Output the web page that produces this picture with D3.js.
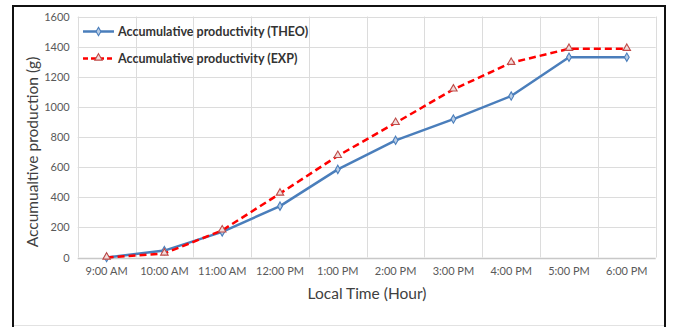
<!DOCTYPE html>
<html>
<head>
<meta charset="utf-8">
<script src="https://cdn.jsdelivr.net/npm/d3@7/dist/d3.min.js"></script>
<style>
  html, body { margin: 0; padding: 0; background: #fff; }
  svg { display: block; }
</style>
</head>
<body>
<svg id="chart" width="673" height="327"></svg>
<script>
// Hourly time slots on the x axis
const hours = ["9:00 AM", "10:00 AM", "11:00 AM", "12:00 PM", "1:00 PM",
               "2:00 PM", "3:00 PM", "4:00 PM", "5:00 PM", "6:00 PM"];
// Accumulated production in grams
const theoValues = [0, 46, 170, 341, 585, 778, 919, 1072, 1330, 1330];
const expValues  = [0, 27, 180, 425, 675, 894, 1116, 1293, 1386, 1386];
const yTicks = [0, 200, 400, 600, 800, 1000, 1200, 1400, 1600];
const seriesNames = ["Accumulative productivity (THEO)", "Accumulative productivity (EXP)"];

const svg = d3.select("#chart");
const font = "Lato, 'Open Sans', sans-serif";

// Outer frame
svg.append("rect")
  .attr("x", 13).attr("y", 6).attr("width", 652).attr("height", 330)
  .attr("fill", "none").attr("stroke", "#111").attr("stroke-width", 2);
svg.append("line")
  .attr("x1", 14).attr("x2", 664).attr("y1", 325.5).attr("y2", 325.5)
  .attr("stroke", "#e2e2e2").attr("stroke-width", 1);

const plot = { left: 77.7, right: 655.7, top: 16.5, bottom: 257.5 };

const x = d3.scaleBand().domain(hours).range([plot.left, plot.right]);
const y = d3.scaleLinear().domain([0, 1600]).range([plot.bottom, plot.top]);

// Horizontal gridlines
svg.append("g").selectAll("line").data(yTicks).join("line")
  .attr("x1", plot.left).attr("x2", plot.right)
  .attr("y1", d => Math.round(y(d)) + 0.5).attr("y2", d => Math.round(y(d)) + 0.5)
  .attr("stroke", d => d === 0 ? "#c8c8c8" : "#dcdcdc").attr("stroke-width", d => d === 0 ? 1.3 : 1);

// Vertical gridlines at category boundaries
const bounds = hours.map(h => x(h)).concat([plot.right]);
svg.append("g").selectAll("line").data(bounds).join("line")
  .attr("x1", d => Math.round(d) + 0.5).attr("x2", d => Math.round(d) + 0.5)
  .attr("y1", plot.top).attr("y2", plot.bottom)
  .attr("stroke", "#dcdcdc").attr("stroke-width", 1);

// Y axis labels
const yAxis = d3.axisLeft(y).tickValues(yTicks).tickFormat(d3.format("d")).tickSize(0).tickPadding(8);
const gy = svg.append("g").attr("transform", `translate(${plot.left},0)`).call(yAxis);
gy.select(".domain").remove();
gy.selectAll("text").attr("font-family", font).attr("font-size", 11).attr("fill", "#595959");

// X axis labels
const xAxis = d3.axisBottom(x).tickSize(0).tickPadding(10);
const gx = svg.append("g").attr("transform", `translate(0,${plot.bottom})`).call(xAxis);
gx.select(".domain").remove();
gx.selectAll("text").attr("font-family", font).attr("font-size", 11).attr("fill", "#595959");

// Axis titles
svg.append("text")
  .attr("x", 367).attr("y", 299).attr("text-anchor", "middle")
  .attr("font-family", font).attr("font-size", 15.5).attr("fill", "#404040")
  .text("Local Time (Hour)");
svg.append("text")
  .attr("transform", "translate(38,152) rotate(-90)").attr("text-anchor", "middle")
  .attr("font-family", font).attr("font-size", 15.5).attr("fill", "#404040")
  .text("Accumualtive production (g)");

const cx = d => x(d) + x.bandwidth() / 2;
const line = d3.line().x((d, i) => cx(hours[i])).y(d => y(d));

const theoColor = "#4a7ebb";
const expColor = "#ff0000";
const diamond = d3.symbol().type(d3.symbolDiamond).size(20);
const triangle = d3.symbol().type(d3.symbolTriangle).size(24);

// THEO series
svg.append("path").datum(theoValues)
  .attr("d", line).attr("fill", "none")
  .attr("stroke", theoColor).attr("stroke-width", 2.5).attr("stroke-linejoin", "round");
svg.append("g").selectAll("path").data(theoValues).join("path")
  .attr("d", diamond)
  .attr("transform", (d, i) => `translate(${cx(hours[i])},${y(d)})`)
  .attr("fill", "#b9cde5").attr("stroke", theoColor).attr("stroke-width", 1.1);

// EXP series
svg.append("path").datum(expValues)
  .attr("d", line).attr("fill", "none")
  .attr("stroke", expColor).attr("stroke-width", 2.5).attr("stroke-dasharray", "7,4");
svg.append("g").selectAll("path").data(expValues).join("path")
  .attr("d", triangle)
  .attr("transform", (d, i) => `translate(${cx(hours[i])},${y(d) - 0.5})`)
  .attr("fill", "#f2dcdb").attr("stroke", "#be4b48").attr("stroke-width", 1.1);

// Legend
const legend = svg.append("g");
const legY = [31.5, 58.5];
legend.append("line").attr("x1", 83).attr("x2", 114).attr("y1", legY[0]).attr("y2", legY[0])
  .attr("stroke", theoColor).attr("stroke-width", 2.5);
legend.append("path").attr("d", diamond).attr("transform", `translate(98.5,${legY[0]})`)
  .attr("fill", "#b9cde5").attr("stroke", theoColor).attr("stroke-width", 1.1);
legend.append("line").attr("x1", 83).attr("x2", 114).attr("y1", legY[1]).attr("y2", legY[1])
  .attr("stroke", expColor).attr("stroke-width", 2.5).attr("stroke-dasharray", "5,3");
legend.append("path").attr("d", triangle).attr("transform", `translate(98.5,${legY[1] - 0.5})`)
  .attr("fill", "#f2dcdb").attr("stroke", "#be4b48").attr("stroke-width", 1.1);
legend.selectAll("text.leg").data(seriesNames).join("text")
  .attr("class", "leg")
  .attr("x", 118).attr("y", (d, i) => legY[i] + 4.5)
  .attr("font-family", font).attr("font-size", 12.5).attr("font-weight", 700).attr("fill", "#333")
  .text(d => d);
</script>
</body>
</html>
